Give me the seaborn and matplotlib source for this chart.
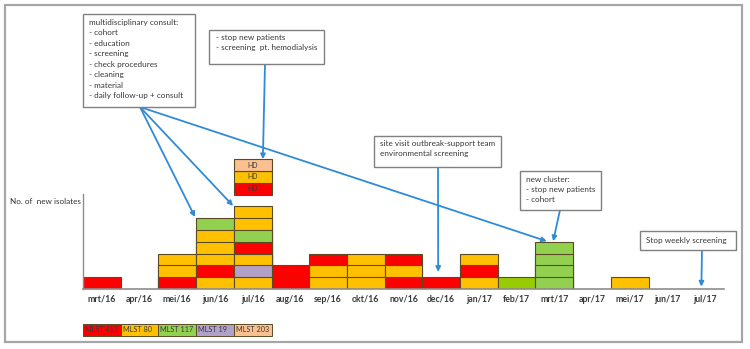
import matplotlib
matplotlib.use("Agg")
import matplotlib.pyplot as plt
from matplotlib.patches import Rectangle
import seaborn as sns
import pandas as pd

# ---- data -------------------------------------------------------------
months = ["mrt/16", "apr/16", "mei/16", "jun/16", "jul/16", "aug/16", "sep/16",
          "okt/16", "nov/16", "dec/16", "jan/17", "feb/17", "mrt/17", "apr/17",
          "mei/17", "jun/17", "jul/17"]

# MLST type of each new isolate per month, listed bottom to top
isolates = [
    ["412"],
    [],
    ["412", "80", "80"],
    ["80", "412", "80", "80", "80", "117"],
    ["80", "19", "80", "412", "117", "80", "80"],
    ["412", "412"],
    ["80", "80", "412"],
    ["80", "80", "80"],
    ["412", "80", "412"],
    ["412"],
    ["80", "412", "80"],
    ["117"],
    ["117", "117", "117", "117"],
    [],
    ["80"],
    [],
    [],
]

# hemodialysis patients screened in jul/16 (bottom to top)
hd_month = "jul/16"
hd_isolates = ["412", "80", "203"]

mlst_types = ["412", "80", "117", "19", "203"]
mlst_colors = {"412": "#FF0000", "80": "#FFC000", "117": "#92D050",
               "19": "#B1A0C7", "203": "#FAC090"}
feb_shade = "#99CC00"  # the feb/17 MLST 117 isolate is shaded lime

# ---- long table: one row per isolate --------------------------------
rows = []
for m, stack in zip(months, isolates):
    for level, st in enumerate(stack):
        col = mlst_colors[st]
        if m == "feb/17" and st == "117":
            col = feb_shade
        rows.append({"month": m, "level": level, "top": level + 1,
                     "mlst": st, "color": col})
df = pd.DataFrame(rows)
totals = [len(s) for s in isolates]

# ---- figure -----------------------------------------------------------
W, H = 750, 349
fig = plt.figure(figsize=(W / 100, H / 100), dpi=100)
sns.set_style("white")
plt.rcParams["font.family"] = ["Lato", "DejaVu Sans"]

AX_L, AX_R, AX_B = 83, 724, 289          # pixel frame of the plotting area
UNIT_PX = 11.8                            # pixels per isolate
ax = fig.add_axes([AX_L / W, (H - AX_B) / H, (AX_R - AX_L) / W, AX_B / H])
ax.set_facecolor("none")

XPX = (AX_R - AX_L) / len(months)


def dx(px):
    return (px - AX_L) / XPX - 0.5


def dy(py):
    return (AX_B - py) / UNIT_PX


edge = "#5b4b25"
palette = {c: c for c in df["color"].unique()}

# stacked blocks: draw tallest level first, lower levels overdraw beneath
for level in sorted(df["level"].unique(), reverse=True):
    sub = df[df["level"] == level]
    sns.barplot(data=sub, x="month", y="top", hue="color", palette=palette,
                order=months, dodge=False, width=1, saturation=1,
                errorbar=None, edgecolor=edge, linewidth=0.8, legend=False,
                ax=ax)

# floating HD stack above jul/16
hd_x = months.index(hd_month)
hd_base = 8
for i, st in enumerate(hd_isolates):
    ax.bar(hd_x, 1, bottom=hd_base + i, width=1, color=mlst_colors[st],
           edgecolor=edge, linewidth=0.8, clip_on=False)
    ax.text(hd_x, hd_base + i + 0.5, "HD", ha="center", va="center",
            fontsize=5, color="#3a3a3a")

ax.set_xlim(-0.5, len(months) - 0.5)
ax.set_ylim(0, AX_B / UNIT_PX)
ax.set_xlabel("")
ax.set_ylabel("")
ax.set_yticks([])
ax.set_xticks(range(len(months)))
ax.set_xticklabels(months, fontsize=6.3, fontweight="bold", color="#3a3a3a")
ax.tick_params(axis="x", length=0, pad=4)
for s in ("top", "right"):
    ax.spines[s].set_visible(False)
ax.spines["bottom"].set_color("#8c8c8c")
ax.spines["bottom"].set_linewidth(1.2)
ax.spines["left"].set_color("#8c8c8c")
ax.spines["left"].set_linewidth(1.0)
ax.spines["left"].set_bounds(0, dy(194))

ax.text(dx(81), dy(201), "No. of  new isolates", ha="right", va="center",
        fontsize=5.9, color="#333333")

# ---- annotation boxes and arrows -----------------------------------
txt_col = "#383838"
box_edge = "#808080"
arrow_col = "#2F8BD8"


def box(x0, y0, x1, y1, text, tx, ty, va="top", ls=1.57):
    ax.add_patch(Rectangle((dx(x0), dy(y1)), dx(x1) - dx(x0), dy(y0) - dy(y1),
                           facecolor="white", edgecolor=box_edge, lw=1.0,
                           clip_on=False, zorder=5))
    ax.text(dx(tx), dy(ty), text, ha="left", va=va, fontsize=5.9,
            color=txt_col, linespacing=ls, zorder=6, clip_on=False)


def arrow(src, dst):
    ax.annotate("", xy=dst, xytext=(dx(src[0]), dy(src[1])),
                xycoords="data", textcoords="data",
                arrowprops=dict(arrowstyle="-|>", color=arrow_col, lw=1.3,
                                mutation_scale=7, shrinkA=0, shrinkB=0),
                annotation_clip=False, zorder=4)


box(83, 14, 195, 107,
    "multidisciplinary consult:\n- cohort\n- education\n- screening\n"
    "- check procedures\n- cleaning\n- material\n- daily follow-up + consult",
    89, 19)
box(209, 30, 324, 64, "- stop new patients\n- screening  pt. hemodialysis",
    216, 34)
box(374, 136, 501, 167,
    "site visit outbreak-support team\nenvironmental screening", 380, 140)
box(520, 171, 601, 210, "new cluster:\n- stop new patients\n- cohort",
    526, 175.5)
box(640, 231, 736, 250, "Stop weekly screening", 646, 240.5, va="center")

i_jun, i_jul = months.index("jun/16"), months.index("jul/16")
i_dec, i_mrt17 = months.index("dec/16"), months.index("mrt/17")
i_jul17 = months.index("jul/17")

arrow((140, 107), (i_jun - 0.53, totals[i_jun] + 0.1))
arrow((140, 107), (i_jul - 0.52, totals[i_jul] + 0.05))
arrow((140, 107), (i_mrt17 - 0.2, totals[i_mrt17] + 0.05))
arrow((265, 64), (i_jul + 0.27, hd_base + len(hd_isolates)))
arrow((438, 167), (i_dec - 0.08, totals[i_dec] + 0.45))
arrow((560, 210), (i_mrt17 - 0.03, totals[i_mrt17] + 0.05))
arrow((702, 250), (i_jul17 - 0.1, 0.2))

# ---- legend strip ------------------------------------------------------
for i, st in enumerate(mlst_types):
    ax.add_patch(Rectangle((i - 0.5, dy(336)), 1, dy(324) - dy(336),
                           facecolor=mlst_colors[st], edgecolor=edge,
                           lw=0.7, clip_on=False))
    ax.text(i - 0.45, (dy(324) + dy(336)) / 2, f"MLST {st}", ha="left",
            va="center", fontsize=5.2, color="#3a3a3a", clip_on=False)

# outer frame
fig.patches.append(Rectangle((5 / W, 1 - 342 / H), 737 / W, 337 / H,
                             transform=fig.transFigure, fill=False,
                             edgecolor="#a6a6a6", lw=1.6))

fig.savefig("out.png", dpi=100)
